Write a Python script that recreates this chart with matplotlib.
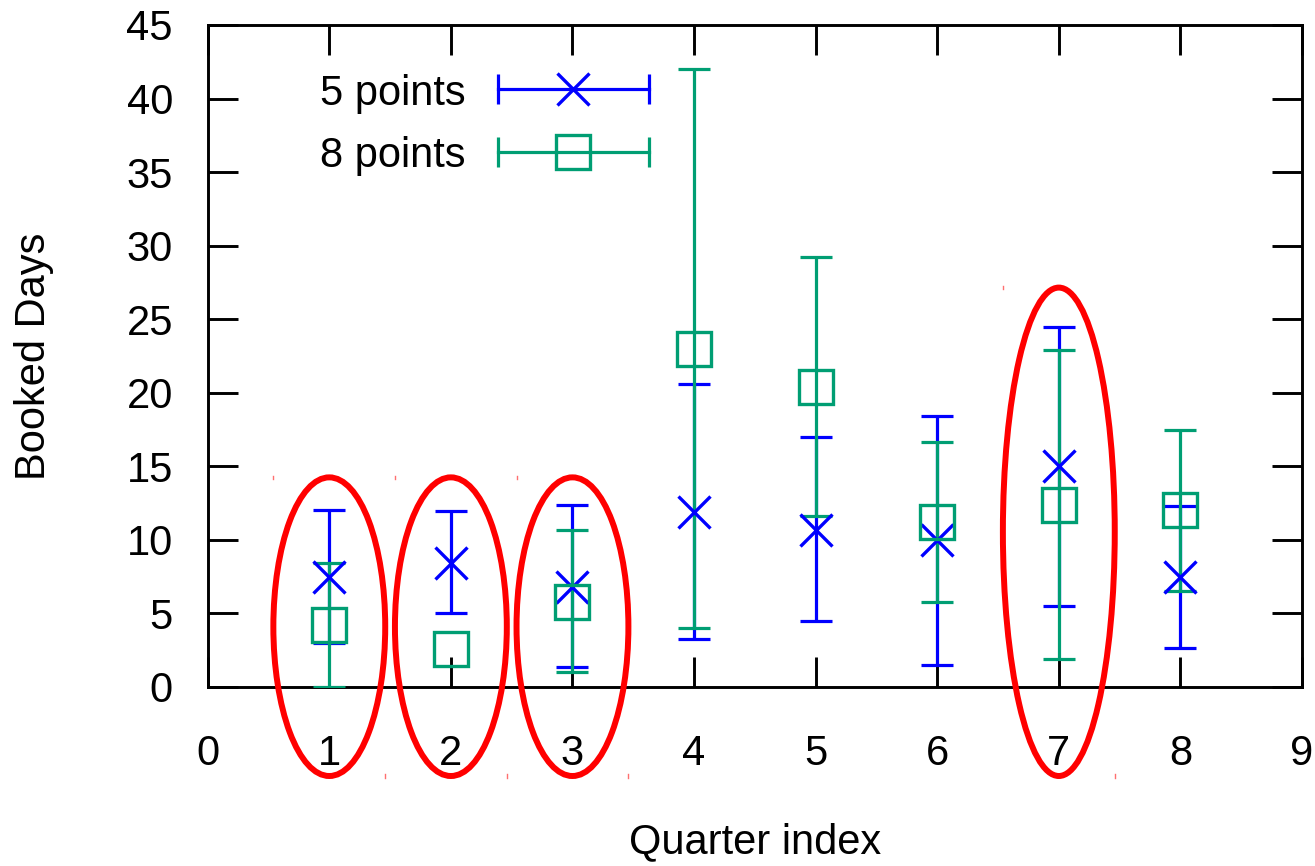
import matplotlib
matplotlib.use("Agg")
import matplotlib.pyplot as plt
from matplotlib.patches import Ellipse
import numpy as np

plt.rcParams['font.family'] = ['Liberation Sans', 'DejaVu Sans']

# ---- data ----
quarters = [1, 2, 3, 4, 5, 6, 7, 8]

pts5_mean = [7.5, 8.4, 6.8, 11.9, 10.7, 10.0, 15.0, 7.5]
pts5_low = [3.0, 5.0, 1.35, 3.25, 4.5, 1.5, 5.5, 2.65]
pts5_high = [12.0, 11.95, 12.35, 20.6, 17.0, 18.4, 24.5, 12.3]

# quarter 2 of the 8-point series shows no visible error bar
pts8_mean = [4.2, 2.6, 5.8, 23.0, 20.4, 11.25, 12.4, 12.05]
pts8_low = [0.0, np.nan, 1.0, 4.0, 11.65, 5.8, 1.9, 6.55]
pts8_high = [8.4, np.nan, 10.65, 42.0, 29.2, 16.65, 22.9, 17.5]

series_labels = ["5 points", "8 points"]

# highlighted quarters (red ellipses)
ell_x = [1, 2, 3, 7]
ell_y = [4.1, 4.1, 4.1, 10.55]
ell_w = [0.92, 0.92, 0.92, 0.92]
ell_h = [20.3, 20.3, 20.3, 33.2]

x_ticks = list(range(0, 10))
y_ticks = list(range(0, 50, 5))

BLUE = "#0000ff"
GREEN = "#009e73"
RED = "#ff0000"
FS = 30

fig = plt.figure(figsize=(13.15, 8.66), dpi=100)
ax = fig.add_axes([207.7 / 1315, 179 / 866, (1302 - 207.7) / 1315, (687 - 25) / 866])

def draw(mean, low, high, color, marker, ms, mew):
    mean = np.array(mean, dtype=float)
    low = np.array(low, dtype=float)
    high = np.array(high, dtype=float)
    ok = ~np.isnan(low)
    q = np.array(quarters)
    yerr = [mean[ok] - low[ok], high[ok] - mean[ok]]
    ax.errorbar(q[ok], mean[ok], yerr=yerr, fmt='none', ecolor=color,
                elinewidth=2.3, capsize=11.5, capthick=2.3, zorder=3)
    ax.plot(quarters, mean, linestyle='none', marker=marker, ms=ms,
            mew=mew, mec=color, mfc='none', zorder=4)

draw(pts5_mean, pts5_low, pts5_high, BLUE, 'x', 23.5, 2.4)
draw(pts8_mean, pts8_low, pts8_high, GREEN, 's', 25, 2.4)

for cx, cy, w, h in zip(ell_x, ell_y, ell_w, ell_h):
    e = Ellipse((cx, cy), w, h, fill=False, edgecolor=RED, linewidth=4.3,
                clip_on=False, zorder=5)
    ax.add_patch(e)
    # tiny corner marks left by the ellipse bounding box
    ax.plot([cx - w / 2, cx - w / 2], [cy + h / 2 - 0.12, cy + h / 2 + 0.12],
            color="#ff7070", lw=1.0, clip_on=False, zorder=5)
    ax.plot([cx + w / 2, cx + w / 2], [cy - h / 2 - 0.12, cy - h / 2 + 0.12],
            color="#ff7070", lw=1.0, clip_on=False, zorder=5)

ax.set_xlim(0, 9)
ax.set_ylim(0, 45)
ax.set_xticks(x_ticks)
ax.set_yticks(y_ticks)
ax.tick_params(axis='both', which='major', direction='in', length=21.6,
               width=2.1, labelsize=FS, top=True, right=True)
ax.tick_params(axis='x', pad=34)
ax.tick_params(axis='y', pad=25)
for sp in ax.spines.values():
    sp.set_linewidth(2.1)

ax.set_xlabel("Quarter index", fontsize=FS)
ax.set_ylabel("Booked Days", fontsize=FS)
ax.xaxis.set_label_coords(0.5, -0.205)
ax.yaxis.set_label_coords(-0.14, 0.5)

# legend drawn gnuplot-style (horizontal sample with end caps)
leg_rows = [(0.903, 0.879, BLUE, 'x', 23.5, series_labels[0]),
            (0.8086, 0.7855, GREEN, 's', 25, series_labels[1])]
for yy, yb, col, mk, ms, lab in leg_rows:
    ax.text(0.236, yb, lab, transform=ax.transAxes, ha='right', va='baseline',
            fontsize=FS)
    ax.plot([0.265, 0.403], [yy, yy], transform=ax.transAxes, color=col,
            lw=2.3, clip_on=False, zorder=6)
    ax.plot([0.265, 0.403], [yy, yy], transform=ax.transAxes, color=col,
            linestyle='none', marker='|', ms=22, mew=2.3, clip_on=False, zorder=6)
    ax.plot([0.334], [yy], transform=ax.transAxes, linestyle='none', marker=mk,
            ms=ms, mew=2.4, mec=col, mfc='none', clip_on=False, zorder=6)

fig.savefig("out.png", dpi=100)
